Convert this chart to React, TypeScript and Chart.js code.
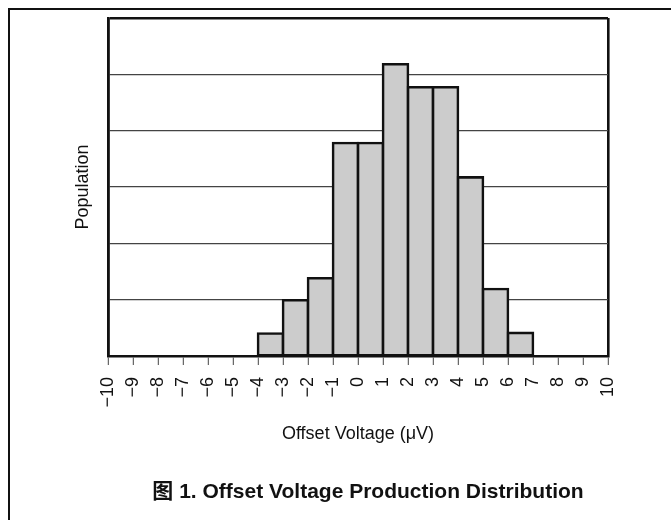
import React, { useEffect, useRef } from 'react';
import { Chart, registerables } from 'chart.js';

Chart.register(...registerables);

const FONT = '"Liberation Sans", Arial, "Noto Sans CJK SC", sans-serif';

const xTickLabels = ['−10', '−9', '−8', '−7', '−6', '−5', '−4', '−3', '−2', '−1', '0', '1', '2', '3', '4', '5', '6', '7', '8', '9', '10'];
const xMin = -10;
const xMax = 10;
const binWidth = 1;
const binStarts = [-4, -3, -2, -1, 0, 1, 2, 3, 4, 5, 6];
const population = [0.4, 0.99, 1.38, 3.78, 3.78, 5.18, 4.77, 4.77, 3.17, 1.19, 0.41];
const yMax = 6;
const xTitle = 'Offset Voltage (μV)';
const yTitle = 'Population';
const caption = '图 1. Offset Voltage Production Distribution';

export default function App() {
  const ref = useRef<HTMLCanvasElement>(null);

  useEffect(() => {
    const chart = new Chart(ref.current as HTMLCanvasElement, {
      type: 'bar',
      data: {
        datasets: [
          {
            data: binStarts.map((b, i) => ({ x: b + binWidth / 2, y: population[i] })),
            backgroundColor: '#cccccc',
            borderColor: '#111111',
            borderWidth: 2.6,
            borderSkipped: false,
            inflateAmount: 1.3,
            barPercentage: 1,
            categoryPercentage: 1,
          } as any,
        ],
      },
      options: {
        animation: false,
        responsive: true,
        maintainAspectRatio: false,
        layout: { padding: { left: 72, top: 18, right: 63, bottom: 75 } },
        plugins: { legend: { display: false }, tooltip: { enabled: false } },
        scales: {
          x: {
            type: 'linear',
            min: xMin,
            max: xMax,
            offset: false,
            afterFit: (s: any) => { s.height = 89; },
            ticks: {
              stepSize: 1,
              autoSkip: false,
              maxRotation: 90,
              minRotation: 90,
              padding: 12,
              color: '#111',
              font: { size: 18, family: FONT },
              callback: (_v: any, i: number) => xTickLabels[i],
            },
            grid: {
              offset: false,
              drawOnChartArea: true,
              color: (ctx: any) => (ctx.tick && (ctx.tick.value === xMin || ctx.tick.value === xMax)) ? '#111' : 'rgba(0,0,0,0)',
              lineWidth: 2.6,
              drawTicks: true,
              tickLength: 9,
              tickColor: '#444',
              tickWidth: 1,
            },
            border: { display: true, color: '#111', width: 2.6 },
            title: { display: true, text: xTitle, color: '#111', font: { size: 18, family: FONT }, padding: 0 },
          } as any,
          y: {
            min: 0,
            max: yMax,
            afterFit: (s: any) => { s.width = 36; },
            ticks: { stepSize: 1, display: false },
            grid: {
              color: (ctx: any) => (ctx.tick && ctx.tick.value === yMax ? '#111' : '#444'),
              lineWidth: (ctx: any) => (ctx.tick && ctx.tick.value === yMax ? 2.6 : 1.3),
              drawTicks: false,
            },
            border: { display: true, color: '#111', width: 2.6 },
            title: { display: true, text: yTitle, color: '#111', font: { size: 18, family: FONT }, padding: 0 },
          } as any,
        },
      },
    });
    return () => chart.destroy();
  }, []);

  return (
    <div>
      <div
        style={{
          position: 'absolute',
          left: 8,
          top: 8,
          width: 663,
          height: 512,
          borderTop: '2px solid #111',
          borderLeft: '2px solid #111',
          boxSizing: 'border-box',
        }}
      />
      <div style={{ position: 'absolute', left: 0, top: 0, width: 671, height: 520 }}>
        <canvas ref={ref} />
      </div>
      <div
        style={{
          position: 'absolute',
          left: 68,
          top: 479,
          width: 600,
          textAlign: 'center',
          fontFamily: FONT,
          fontWeight: 'bold',
          fontSize: 21,
          lineHeight: '24px',
          color: '#111',
          whiteSpace: 'nowrap',
        }}
      >
        {caption}
      </div>
    </div>
  );
}
